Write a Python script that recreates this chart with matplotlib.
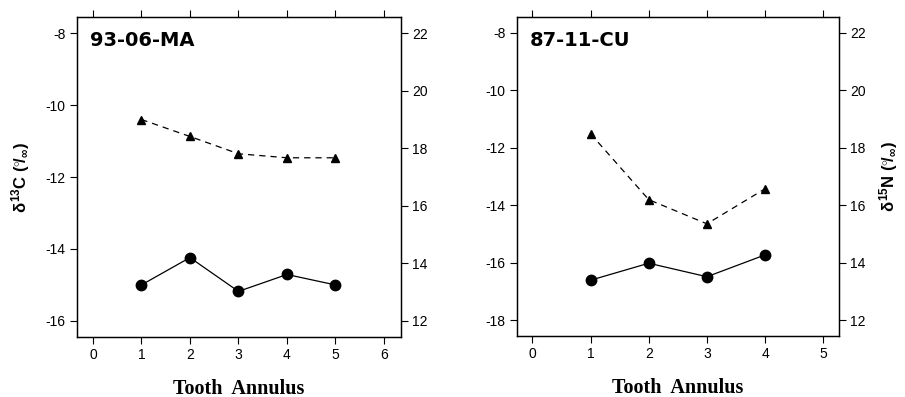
import matplotlib
matplotlib.use("Agg")
import matplotlib.pyplot as plt
import numpy as np

plt.rcParams['font.family'] = ['Liberation Sans', 'DejaVu Sans']
plt.rcParams['axes.unicode_minus'] = False
plt.rcParams['mathtext.fontset'] = 'custom'
plt.rcParams['mathtext.rm'] = 'Liberation Sans:bold'
plt.rcParams['mathtext.it'] = 'Liberation Sans:bold'
plt.rcParams['mathtext.bf'] = 'Liberation Sans:bold'

# panel A: 93-06-MA
annulus_a = [1, 2, 3, 4, 5]
carbon_a = [-15.0, -14.24, -15.18, -14.71, -15.0]
nitrogen_a = [19.0, 18.41, 17.81, 17.67, 17.67]

# panel B: 87-11-CU
annulus_b = [1, 2, 3, 4]
carbon_b = [-16.6, -16.01, -16.48, -15.72]
nitrogen_b = [18.49, 16.2, 15.36, 16.58]

panels = [
    ("93-06-MA", annulus_a, carbon_a, nitrogen_a,
     [0.085, 0.151, 0.358, 0.806], (-0.33, 6.35), range(0, 7),
     (-16.45, -7.55), range(-16, -7, 2), (11.44, 22.56)),
    ("87-11-CU", annulus_b, carbon_b, nitrogen_b,
     [0.571, 0.153, 0.356, 0.804], (-0.27, 5.27), range(0, 6),
     (-18.55, -7.45), range(-18, -7, 2), (11.45, 22.55)),
]

fig = plt.figure(figsize=(9.05, 3.97), dpi=100)

for i, (name, xs, c, n, pos, xl, xt, yl, yt, nl) in enumerate(panels):
    ax = fig.add_axes(pos)
    ax2 = ax.twinx()

    ax.plot(xs, c, color='black', lw=0.9, marker='o', ms=7.5, zorder=3)
    ax2.plot(xs, n, color='black', lw=0.9, ls=(0, (5, 4)), marker='^',
             ms=6, zorder=3)

    ax.set_xlim(*xl)
    ax.set_xticks(list(xt))
    ax.set_ylim(*yl)
    ax.set_yticks(list(yt))
    ax2.set_ylim(*nl)
    ax2.set_yticks(range(12, 23, 2))

    for a in (ax, ax2):
        for s in a.spines.values():
            s.set_linewidth(0.9)
        a.tick_params(direction='out', length=5, width=0.8, labelsize=10,
                      pad=3)
    ax.tick_params(top=True, labeltop=False)

    ax.text(0.04, 0.928, name, transform=ax.transAxes, fontsize=14,
            family='DejaVu Sans', fontweight='bold', va='center', ha='left')
    ax.set_xlabel("Tooth  Annulus", family='Liberation Serif',
                  fontweight='bold', fontsize=14.5, labelpad=12)
    if i == 0:
        ax.set_ylabel(r'$\delta^{13}$C ($^{\circ}\!/_{\infty}$)',
                      fontsize=12, fontweight='bold', labelpad=10)
    else:
        ax2.set_ylabel(r'$\delta^{15}$N ($^{\circ}\!/_{\infty}$)',
                       fontsize=12, fontweight='bold', rotation=90,
                       labelpad=8)

fig.savefig("out.png", dpi=100)
